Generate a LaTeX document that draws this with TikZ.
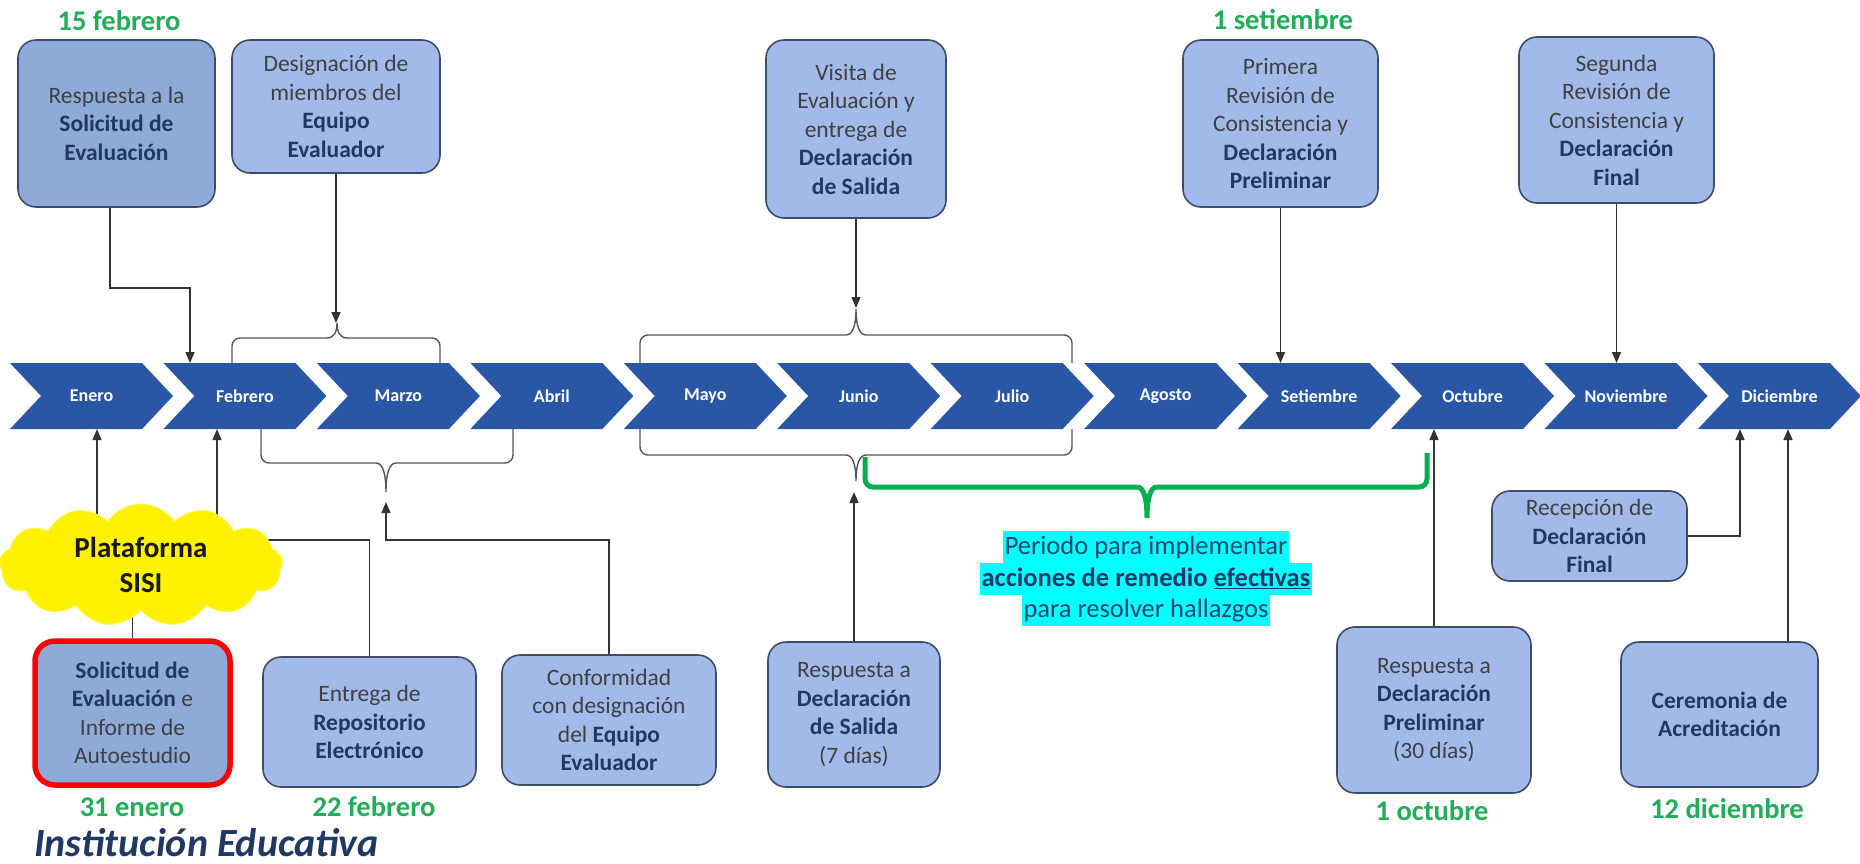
\documentclass[tikz,border=0pt]{standalone}
\usepackage{fontspec}
\setmainfont{Carlito}
\usetikzlibrary{shapes.symbols,arrows.meta,calc}
\pgfdeclarelayer{back}
\pgfsetlayers{back,main}
\definecolor{chev}{HTML}{2A56A6}
\definecolor{boxfill}{HTML}{A2BAEA}
\definecolor{boxfillB}{HTML}{8EAAD8}
\definecolor{boxline}{HTML}{3E4C66}
\definecolor{navy}{HTML}{1F3864}
\definecolor{txtgray}{HTML}{404040}
\definecolor{dategreen}{HTML}{22AD58}
\definecolor{bracegreen}{HTML}{00B050}
\definecolor{connc}{HTML}{333333}
\definecolor{bracec}{HTML}{555555}
\definecolor{cyantxt}{HTML}{23456B}
\definecolor{hlcyan}{RGB}{0,255,255}
\newcommand{\hb}[1]{\textbf{\textcolor{navy}{#1}}}
% style, xl, xm, xr, yb left, yb right, hy, ty
\newcommand{\mybrace}[8]{%
 \draw[#1, rounded corners=8pt] (#2,#5) -- (#2,#7) -- ({#3-10},#7);
 \draw[#1] ({#3-10},#7) .. controls ({#3-3},#7) and (#3,{0.6*#7+0.4*#8}) .. (#3,#8)
   .. controls (#3,{0.6*#7+0.4*#8}) and ({#3+3},#7) .. ({#3+10},#7);
 \draw[#1, rounded corners=8pt] ({#3+10},#7) -- (#4,#7) -- (#4,#6);
}
\begin{document}
\begin{tikzpicture}[x=1pt,y=-1pt,
  evbox/.style={draw=boxline, line width=1.6pt, rounded corners=18pt, fill=boxfill,
    align=center, text=txtgray, font=\fontsize{23.5}{28.5}\selectfont, inner sep=0pt},
  datelbl/.style={text=dategreen, font=\bfseries\fontsize{28.5}{33}\selectfont, inner sep=0pt},
  monthlbl/.style={text=white, font=\bfseries\fontsize{18}{20}\selectfont, inner sep=0pt,
    minimum width=163pt, minimum height=66pt},
  conn/.style={draw=connc, line width=1.5pt},
  arr/.style={conn, -{Triangle[length=11pt,width=9pt]}},
  bracel/.style={draw=bracec, line width=1.4pt},
  greenb/.style={draw=bracegreen, line width=5pt},
  cyanl/.style={fill=hlcyan, text=cyantxt, font=\fontsize{26.5}{31.5}\selectfont,
    inner xsep=1.5pt, inner ysep=0pt, minimum height=31.7pt},
]
\useasboundingbox (0,0) rectangle (1860,863);
\begin{pgfonlayer}{back}
\fill[white] (0,0) rectangle (1860,863);
\end{pgfonlayer}

% coordinates on the chevron band
\coordinate (enB) at (97,429);
\coordinate (febT) at (190,363);
\coordinate (febB) at (217,429);
\coordinate (setT) at (1281,363);
\coordinate (novT) at (1616,363);
\coordinate (octB) at (1433,429);
\coordinate (dicB1) at (1740,429);
\coordinate (dicB2) at (1788,429);
\coordinate (aj) at (190,288);
\coordinate (hj) at (0,540);
\coordinate (b1a) at (337,323);
\coordinate (b3ta) at (856,308);
\coordinate (b2a) at (386,502);
\coordinate (b3ba) at (856,492);

% chevrons
\foreach \i/\name in {0/Enero,1/Febrero,2/Marzo,3/Abril,4/Mayo,5/Junio,6/Julio,7/Agosto,8/Setiembre,9/Octubre,10/Noviembre,11/Diciembre}{
  \pgfmathsetmacro\xo{10+153.45*\i}
  \begin{pgfonlayer}{back}
  \fill[chev] (\xo,363) -- ++(132,0) -- ++(31,33) -- ++(-31,33) -- ++(-132,0) -- ++(31,-33) -- cycle;
  \end{pgfonlayer}
  \node[monthlbl] (m\i) at (\xo+81.5,396) {\name};
}

% top boxes
\node[evbox, fill=boxfillB, minimum width=197pt, minimum height=167pt] (A) at (116.5,123.5)
  {Respuesta a la\\\hb{Solicitud de}\\\hb{Evaluación}};
\node[evbox, minimum width=208pt, minimum height=133pt] (B) at (336,106.5)
  {Designación de\\miembros del\\\hb{Equipo}\\\hb{Evaluador}};
\node[evbox, minimum width=180pt, minimum height=178pt] (C) at (856,129)
  {Visita de\\Evaluación y\\entrega de\\\hb{Declaración}\\\hb{de Salida}};
\node[evbox, minimum width=195pt, minimum height=167pt] (D) at (1280.5,123.5)
  {Primera\\Revisión de\\Consistencia y\\\hb{Declaración}\\\hb{Preliminar}};
\node[evbox, minimum width=195pt, minimum height=166pt] (E) at (1616.5,120)
  {Segunda\\Revisión de\\Consistencia y\\\hb{Declaración}\\\hb{Final}};

% bottom boxes
\node[evbox, fill=boxfillB, draw=red, line width=5.5pt, rounded corners=20pt,
  minimum width=195pt, minimum height=144pt] (sol) at (132.5,713)
  {\hb{Solicitud de}\\\hb{Evaluación} e\\Informe de\\Autoestudio};
\node[evbox, minimum width=213pt, minimum height=130pt] (ent) at (369.5,722)
  {Entrega de\\\hb{Repositorio}\\\hb{Electrónico}};
\node[evbox, minimum width=214pt, minimum height=130pt] (conf) at (609,720)
  {Conformidad\\con designación\\del \hb{Equipo}\\\hb{Evaluador}};
\node[evbox, minimum width=172pt, minimum height=145pt] (rs) at (854,714.5)
  {Respuesta a\\\hb{Declaración}\\\hb{de Salida}\\(7 días)};
\node[evbox, minimum width=194pt, minimum height=166pt] (rp) at (1434,710)
  {Respuesta a\\\hb{Declaración}\\\hb{Preliminar}\\(30 días)};
\node[evbox, minimum width=195pt, minimum height=90pt] (rec) at (1589.5,536)
  {Recepción de\\\hb{Declaración}\\\hb{Final}};
\node[evbox, minimum width=197pt, minimum height=145pt] (cer) at (1719.5,714.5)
  {\hb{Ceremonia de}\\\hb{Acreditación}};

% cloud
\node[cloud, cloud puffs=13, cloud puff arc=110, cloud ignores aspect,
  minimum width=283pt, minimum height=122pt, fill=yellow, draw=yellow!70!white,
  line width=1pt, align=center, font=\bfseries\fontsize{29}{35}\selectfont,
  text=black!90, inner sep=0pt] (cloud) at (141,565) {Plataforma\\SISI};

% dates
\node[datelbl] (d1) at (119,21) {15 febrero};
\node[datelbl] (d2) at (1283,20) {1 setiembre};
\node[datelbl] (d3) at (132,807) {31 enero};
\node[datelbl] (d4) at (374,807) {22 febrero};
\node[datelbl] (d5) at (1432,811) {1 octubre};
\node[datelbl] (d6) at (1727,809) {12 diciembre};

\node[anchor=base west, text=navy, font=\bfseries\itshape\fontsize{40}{45}\selectfont,
  inner sep=0pt] (inst) at (34,856) {Institución Educativa};

% highlighted text
\node[cyanl] (cy1) at (1146,547) {Periodo para implementar};
\node[cyanl, font=\bfseries\fontsize{26.5}{31.5}\selectfont, text=navy] (cy2) at (1146,578.7)
  {acciones de remedio \underline{efectivas}};
\node[cyanl] (cy3) at (1146,610.4) {para resolver hallazgos};

\begin{pgfonlayer}{back}
% braces
\mybrace{bracel}{232}{337}{440}{363}{363}{338}{323}
\mybrace{bracel}{640}{856}{1072}{363}{363}{335}{309}
\mybrace{bracel}{261}{386}{513}{429}{429}{463}{492}
\mybrace{bracel}{640}{856}{1072}{429}{429}{455}{481}
\mybrace{greenb}{865}{1147}{1427}{457}{453}{487}{518}
% connectors
\draw[arr] ([xshift=-6.5pt]A.south) |- (aj) -- (febT);
\draw[arr] (B.south) -- (B.south |- b1a);
\draw[arr] (C.south) -- (C.south |- b3ta);
\draw[arr] (D.south) -- (D.south |- setT);
\draw[arr] (E.south) -- (E.south |- novT);
\draw[arr] (cloud.center -| enB) -- (enB);
\draw[arr] (cloud.center -| febB) -- (febB);
\draw[conn] (sol.north) -- (sol.north |- cloud.center);
\draw[conn] (ent.north) -- (ent.north |- hj) -- (hj -| cloud.center);
\draw[arr] (conf.north) -- (conf.north |- hj) -- (b2a |- hj) -- (b2a);
\draw[arr] (rs.north) -- (rs.north |- b3ba);
\draw[arr] (rp.north) -- (rp.north |- octB);
\draw[arr] (rec.east) -| (dicB1);
\draw[arr] (cer.north -| dicB2) -- (dicB2);
\end{pgfonlayer}
\end{tikzpicture}
\end{document}
